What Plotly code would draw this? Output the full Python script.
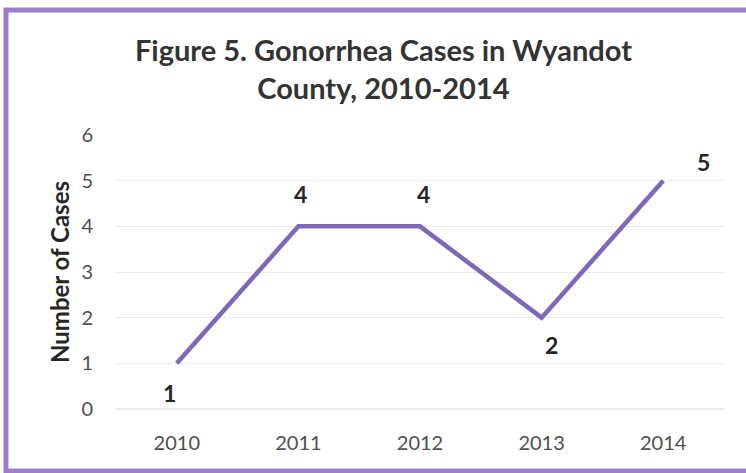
import plotly.graph_objects as go

years = ["2010", "2011", "2012", "2013", "2014"]
cases = [1, 4, 4, 2, 5]
label_dx = [-7, 2, 3, 10, 40]
label_dy = [30, -32, -32, 27, -19]

W, H = 746, 473
L, R, T, B = 116, 22, 135, 64
pw, ph = W - L - R, H - T - B

def px_x(p):
    return (p - L) / pw

def px_y(p):
    return (H - B - p) / ph

fig = go.Figure()
fig.add_trace(go.Scatter(
    x=years, y=cases, mode="lines",
    line=dict(color="#7D68B8", width=4.5),
    hoverinfo="skip", showlegend=False,
))

for i, (y, dx, dy) in enumerate(zip(cases, label_dx, label_dy)):
    fig.add_annotation(x=i, y=y, text=str(y), showarrow=False,
                       xshift=dx, yshift=-dy,
                       font=dict(family="Lato", size=23, color="#262626", weight="bold"))

fig.add_shape(type="rect", xref="paper", yref="paper",
              x0=px_x(6), x1=px_x(752), y0=px_y(471), y1=px_y(10),
              line=dict(color="#9C7FCB", width=5), fillcolor="rgba(0,0,0,0)", layer="below")

fig.update_layout(
    width=W, height=H,
    margin=dict(l=L, r=R, t=T, b=B, autoexpand=False),
    paper_bgcolor="white", plot_bgcolor="white",
    hovermode=False,
    title=dict(text="<b>Figure 5. Gonorrhea Cases in Wyandot<br>County, 2010-2014</b>",
               x=0.514, xanchor="center", y=1 - 61 / H, yanchor="middle",
               font=dict(family="Lato", size=29, color="#333333")),
    xaxis=dict(type="category", range=[-0.5, 4.5], showgrid=False, showline=False,
               zeroline=False, ticks="", ticklabelstandoff=20, automargin=False,
               tickfont=dict(family="Lato", size=20, color="#505050")),
    yaxis=dict(range=[0, 6], dtick=1, showgrid=True, gridcolor="#ececec", gridwidth=1,
               zeroline=True, zerolinecolor="#ececec", showline=False, ticks="",
               ticklabelstandoff=22, automargin=False,
               tickfont=dict(family="Lato", size=20, color="#505050"),
               title=dict(text="<b>Number of Cases</b>", standoff=4,
                          font=dict(family="Lato", size=24, color="#262626"))),
)

fig.write_html("out.html", config={"displayModeBar": False, "staticPlot": True},
               post_script="document.body.style.margin='0px';")
